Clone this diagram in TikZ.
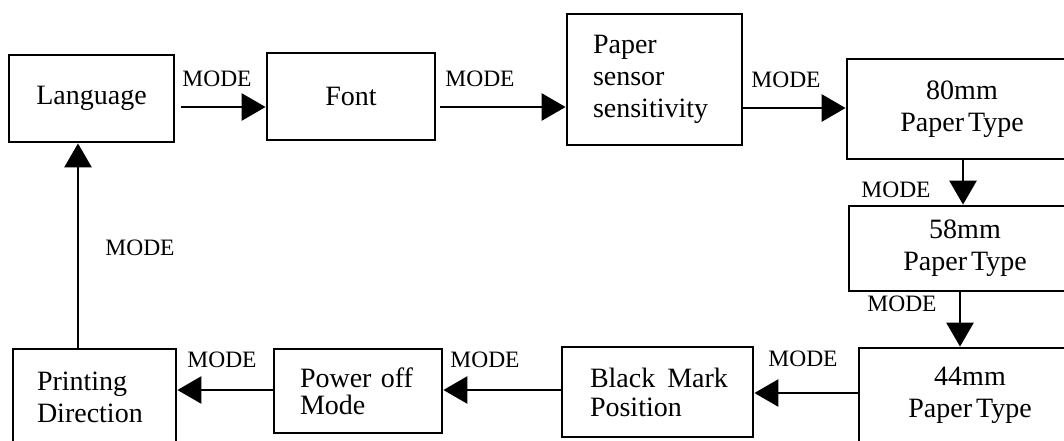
\documentclass[tikz,border=0pt]{standalone}
\usepackage{fontspec}
\setmainfont{Liberation Serif}
\usetikzlibrary{arrows.meta}
\begin{document}
\begin{tikzpicture}[x=1pt,y=-1pt,
  box/.style={draw,line width=2.8pt,rectangle,inner sep=0pt,font=\fontsize{28}{32}\selectfont,align=center},
  lbox/.style={box,align=left,inner xsep=26pt},
  flow/.style={line width=2.8pt,-{Triangle[length=24pt,width=27pt]}},
  lbl/.style={font=\fontsize{23.5}{26}\selectfont,inner sep=0pt}]
\useasboundingbox (0,0) rectangle (1064,440);
\clip (0,0) rectangle (1064,440);
\node[box,minimum width=165pt,minimum height=87pt] (lang) at (91.5,98.5) {Language};
\node[box,minimum width=168pt,minimum height=87pt] (font) at (351,96.5) {Font};
\node[lbox,text width=123pt,minimum height=131pt] (sens) at (654.5,79.5) {Paper\\sensor\\sensitivity};
\node[box,minimum width=230pt,minimum height=100pt] (p80) at (962,109) {80mm\\Paper\kern-3pt\ Type};
\node[box,minimum width=232pt,minimum height=85pt] (p58) at (965,248.5) {58mm\\Paper\kern-3pt\ Type};
\node[box,minimum width=222pt,minimum height=95pt] (p44) at (970,395.5) {44mm\\Paper\kern-3pt\ Type};
\node[lbox,inner xsep=28pt,text width=135pt,minimum height=90pt,font=\fontsize{28}{29}\selectfont] (black) at (657.5,392) {\mbox{Black\hspace{12pt}Mark}\\Position};
\node[lbox,text width=116pt,minimum height=84pt,font=\fontsize{28}{27}\selectfont] (power) at (358,391) {\mbox{Power off}\\Mode};
\node[lbox,inner xsep=24pt,text width=115pt,minimum height=96pt] (print) at (94.5,397) {Printing\\Direction};

\draw[flow,shorten <=6pt] ([yshift=-8.5pt]lang.east) -- ([yshift=-10.5pt]font.west);
\draw[flow,shorten <=4pt] ([yshift=-10.5pt]font.east) -- ([yshift=-27.5pt]sens.west);
\draw[flow] ([yshift=-28.5pt]sens.east) -- ([yshift=1pt]p80.west);
\draw[flow] ([xshift=1pt]p80.south) -- ([xshift=-2pt]p58.north);
\draw[flow] ([xshift=-5pt]p58.south) -- ([xshift=-10pt]p44.north);
\draw[flow] ([yshift=2.5pt]p44.west) -- ([yshift=-1pt]black.east);
\draw[flow] ([yshift=2pt]black.west) -- ([yshift=1pt]power.east);
\draw[flow] ([yshift=1pt]power.west) -- ([yshift=7pt]print.east);
\draw[flow] ([xshift=-16.5pt]print.north) -- ([xshift=-13.5pt]lang.south);

\node[lbl] (m1) at (217,79) {MODE};
\node[lbl] (m2) at (480,79) {MODE};
\node[lbl] (m3) at (786,80) {MODE};
\node[lbl] (m4) at (896,190) {MODE};
\node[lbl] (m5) at (902,304) {MODE};
\node[lbl] (m6) at (803,359) {MODE};
\node[lbl] (m7) at (485,360) {MODE};
\node[lbl] (m8) at (222,360) {MODE};
\node[lbl] (m9) at (140,248) {MODE};
\end{tikzpicture}
\end{document}
